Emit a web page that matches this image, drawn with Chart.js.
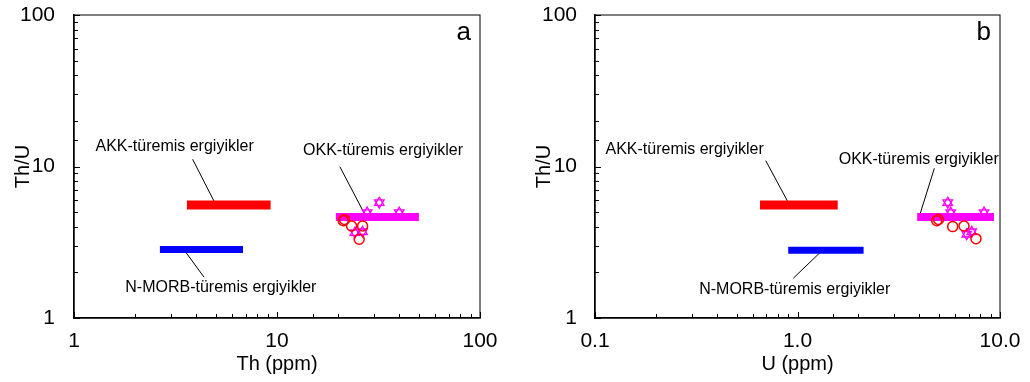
<!DOCTYPE html>
<html>
<head>
<meta charset="utf-8">
<script src="https://cdn.jsdelivr.net/npm/chart.js@4"></script>
<style>
  body { margin: 0; background: #fff; }
  .panel { position: absolute; top: 0; }
</style>
</head>
<body>
<canvas id="chartA" class="panel" width="515" height="382" style="left:0"></canvas>
<canvas id="chartB" class="panel" width="515" height="382" style="left:515px"></canvas>
<script>
// samples, panel a: Th (ppm) vs Th/U
const thCircles = [21.2, 21.5, 23.3, 26.4, 25.4];
const ratioCirclesA = [4.39, 4.47, 4.05, 4.05, 3.31];
const thStars = [31.9, 27.8, 40.0, 24.2, 26.4];
const ratioStarsA = [5.77, 4.96, 4.96, 3.66, 3.71];

// samples, panel b: U (ppm) vs Th/U
const uCircles = [4.87, 4.97, 5.84, 6.64, 7.61];
const ratioCirclesB = [4.39, 4.47, 4.01, 4.05, 3.34];
const uStars = [5.52, 5.71, 8.34, 6.85, 7.25];
const ratioStarsB = [5.77, 4.96, 4.96, 3.57, 3.71];

// melt fields [x from, x to, Th/U]
const akkA = [3.6, 9.3, 5.57];
const morbA = [2.65, 6.8, 2.83];
const okkA = [19.5, 50, 4.64];
const akkB = [0.653, 1.58, 5.57];
const morbB = [0.90, 2.12, 2.80];
const okkB = [3.90, 9.34, 4.64];

const fieldNames = ['AKK-türemis ergiyikler', 'N-MORB-türemis ergiyikler', 'OKK-türemis ergiyikler'];
// label anchor + leader line, in data units: [labelX, labelY, x1, y1, x2, y2]
const notesA = [[3.13, 13.45, 3.84, 11.16, 4.91, 5.86], [5.29, 1.58, 3.49, 2.81, 4.37, 1.86], [33.3, 12.72, 20.4, 9.97, 26.9, 4.91]];
const notesB = [[0.277, 12.99, 0.697, 10.92, 0.901, 5.77], [0.969, 1.55, 1.306, 2.74, 0.953, 1.83], [3.97, 11.04, 4.74, 9.73, 4.0, 4.71]];

const FONT = '"Liberation Sans", Arial, sans-serif';
Chart.defaults.font.family = FONT;
Chart.defaults.color = '#000';

function pts(xs, ys) {
    return xs.map((x, i) => ({x: x, y: ys[i]}));
}

function bar(f, color, w) {
    return {data: [{x: f[0], y: f[2]}, {x: f[1], y: f[2]}], showLine: true, borderColor: color,
        borderWidth: w, borderCapStyle: 'butt', pointRadius: 0};
}

function leader(n) {
    return {data: [{x: n[2], y: n[3]}, {x: n[4], y: n[5]}], showLine: true, borderColor: '#000',
        borderWidth: 1, pointRadius: 0};
}

function isDecade(v) {
    const e = Math.log10(v);
    return Math.abs(e - Math.round(e)) < 1e-6;
}

// only label the decades
function decadeLabel(fmt) {
    return value => isDecade(value) ? fmt(value) : '';
}

// box round the plot, inner tick marks, field names and panel letter
function decor(notes, letter) {
    return {
        id: 'decor',
        afterDatasetsDraw(chart) {
            const {ctx, chartArea: {top, bottom, left, right}, scales: {x, y}} = chart;
            ctx.save();
            ctx.strokeStyle = '#000';
            ctx.lineWidth = 1;
            ctx.strokeRect(left, top, right - left, bottom - top);
            ctx.beginPath();
            x.ticks.forEach(t => {
                const px = Math.round(x.getPixelForValue(t.value)) + 0.5;
                ctx.moveTo(px, bottom);
                ctx.lineTo(px, bottom - (isDecade(t.value) ? 6 : 4));
            });
            y.ticks.forEach(t => {
                const py = Math.round(y.getPixelForValue(t.value)) + 0.5;
                ctx.moveTo(left, py);
                ctx.lineTo(left + (isDecade(t.value) ? 6 : 4), py);
            });
            ctx.stroke();
            ctx.fillStyle = '#000';
            ctx.font = '16px ' + FONT;
            ctx.textAlign = 'center';
            ctx.textBaseline = 'middle';
            notes.forEach((n, i) => ctx.fillText(fieldNames[i], x.getPixelForValue(n[0]), y.getPixelForValue(n[1])));
            ctx.font = '26px ' + FONT;
            ctx.textAlign = 'right';
            ctx.textBaseline = 'alphabetic';
            ctx.fillText(letter, right - 9, top + 25);
            ctx.restore();
        }
    };
}

function makeChart(id, o) {
    const stars = pts(o.starX, o.starY);
    const config = {
        type: 'scatter',
        data: {
            datasets: [
                {data: pts(o.circX, o.circY), pointStyle: 'circle', pointRadius: 5, borderColor: '#ff0000',
                    backgroundColor: 'transparent', pointBorderWidth: 1.5},
                bar(o.okk, '#ff00ff', 8),
                {data: stars, pointStyle: 'triangle', pointRadius: 5.5, borderColor: '#ff00ff',
                    backgroundColor: 'transparent', pointBorderWidth: 1.3},
                {data: stars, pointStyle: 'triangle', pointRotation: 180, pointRadius: 5.5, borderColor: '#ff00ff',
                    backgroundColor: 'transparent', pointBorderWidth: 1.3},
                bar(o.akk, '#ff0000', 9),
                bar(o.morb, '#0000ff', 7),
                leader(o.notes[0]),
                leader(o.notes[1]),
                leader(o.notes[2]),
            ]
        },
        options: {
            responsive: false,
            animation: false,
            events: [],
            layout: {
                padding: {top: 15, right: o.padRight, bottom: 0, left: 0}
            },
            plugins: {
                legend: {display: false},
                tooltip: {enabled: false},
            },
            scales: {
                x: {
                    type: 'logarithmic',
                    position: 'bottom',
                    min: o.xMin,
                    max: o.xMax,
                    afterFit(scale) {
                        scale.height = 64;
                        scale.paddingLeft = 0;
                        scale.paddingRight = 0;
                    },
                    border: {color: '#000', width: 1.5},
                    grid: {display: false},
                    ticks: {autoSkip: false, maxRotation: 0, padding: 3, font: {size: 21},
                        callback: decadeLabel(o.xFmt)},
                    title: {display: true, text: o.xTitle, font: {size: 20}, padding: {top: 0, bottom: 6}}
                },
                y: {
                    type: 'logarithmic',
                    position: 'left',
                    min: 1,
                    max: 100,
                    afterFit(scale) {
                        scale.width = o.yWidth;
                        scale.paddingTop = 0;
                        scale.paddingBottom = 0;
                    },
                    border: {color: '#000', width: 1.5},
                    grid: {display: false},
                    ticks: {autoSkip: false, padding: o.yPad, font: {size: 21},
                        callback: decadeLabel(v => String(Math.round(v)))},
                    title: {display: true, text: 'Th/U', font: {size: 20}, padding: {top: o.yTitlePad, bottom: 0}}
                }
            }
        },
        plugins: [decor(o.notes, o.letter)],
    };
    return new Chart(document.getElementById(id), config);
}

makeChart('chartA', {
    circX: thCircles, circY: ratioCirclesA, starX: thStars, starY: ratioStarsA,
    akk: akkA, morb: morbA, okk: okkA, notes: notesA, letter: 'a',
    xMin: 1, xMax: 100, xTitle: 'Th (ppm)', xFmt: v => String(Math.round(v)),
    padRight: 35, yWidth: 74, yPad: 11, yTitlePad: 11
});

makeChart('chartB', {
    circX: uCircles, circY: ratioCirclesB, starX: uStars, starY: ratioStarsB,
    akk: akkB, morb: morbB, okk: okkB, notes: notesB, letter: 'b',
    xMin: 0.1, xMax: 10, xTitle: 'U (ppm)', xFmt: v => v.toFixed(1),
    padRight: 30, yWidth: 80, yPad: 10, yTitlePad: 17
});
</script>
</body>
</html>
